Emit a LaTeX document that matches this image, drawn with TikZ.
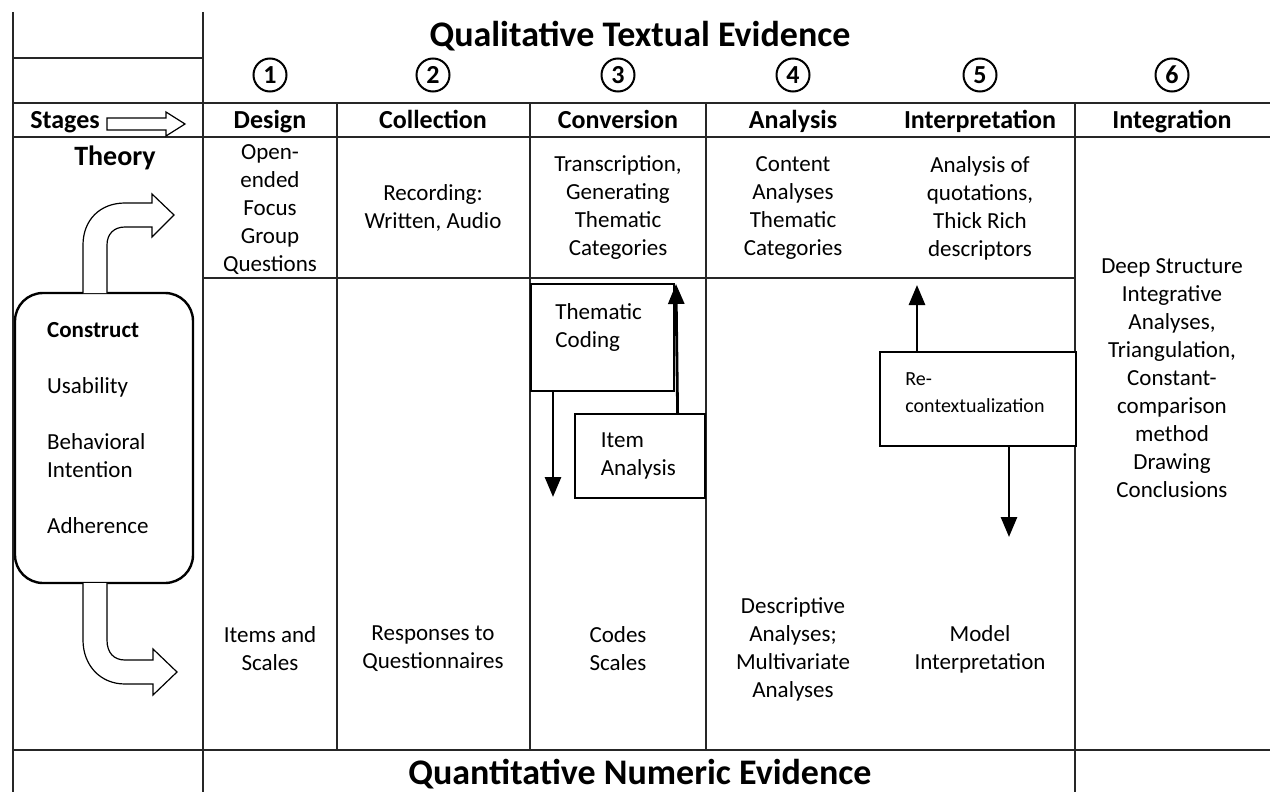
\documentclass[tikz,border=0pt]{standalone}
\usepackage{fontspec}
\setmainfont{Carlito}
\usepackage{xcolor}
\usepackage{tikz}
\usetikzlibrary{positioning}
\usetikzlibrary{arrows.meta}
\tikzstyle{arrow} = [line width=1.4pt,-{Triangle[width=8pt,length=10pt]}]
\tikzstyle{grid} = [line width=0.8pt, draw=black!85]
\tikzstyle{cell} = [align=center, inner sep=0pt, font=\fontsize{11.5}{14}\selectfont]
\tikzstyle{head} = [inner sep=0pt, anchor=base, font=\bfseries\fontsize{13}{15}\selectfont]
\tikzstyle{title} = [inner sep=0pt, anchor=base, font=\bfseries\fontsize{18}{20}\selectfont]
\tikzstyle{num} = [draw, circle, line width=1pt, minimum size=16.5pt, inner sep=0pt, font=\bfseries\fontsize{13}{13}\selectfont]
\tikzstyle{box} = [draw, line width=0.8pt, fill=white, align=left, anchor=north west, font=\fontsize{11.5}{14}\selectfont]
\tikzstyle{hollow} = [line width=0.6pt, fill=white]

\begin{document}
\begin{tikzpicture}[x=0.5pt,y=-0.5pt]
  \useasboundingbox (0,0) rectangle (1270,792);
  % table lines
  \draw[grid] (13,12) -- (13,792);
  \draw[grid] (203,12) -- (203,792);
  \draw[grid] (337,103) -- (337,750);
  \draw[grid] (530,103) -- (530,750);
  \draw[grid] (706,103) -- (706,750);
  \draw[grid] (1075,103) -- (1075,792);
  \draw[grid] (13,58) -- (203,58);
  \draw[grid] (13,103) -- (1270,103);
  \draw[grid] (13,137) -- (1270,137);
  \draw[grid] (203,278) -- (1075,278);
  \draw[grid] (13,750) -- (1270,750);

  \node[title] (qual) at (640,47) {Qualitative Textual Evidence};
  \node[title] (quant) at (640,784) {Quantitative Numeric Evidence};

  \node[num] (n1) at (270,75) {1};
  \node[num] (n2) at (433,75) {2};
  \node[num] (n3) at (618,75) {3};
  \node[num] (n4) at (793,75) {4};
  \node[num] (n5) at (980,75) {5};
  \node[num] (n6) at (1172,75) {6};

  \node[head] (stages) at (65,128.5) {Stages};
  \draw[hollow] (107,118) -- (166,118) -- (166,112) -- (185,124) -- (166,136) -- (166,130) -- (107,130) -- cycle;
  \node[head] (design) at (270,128.5) {Design};
  \node[head] (collection) at (433,128.5) {Collection};
  \node[head] (conversion) at (618,128.5) {Conversion};
  \node[head] (analysis) at (793,128.5) {Analysis};
  \node[head] (interpretation) at (980,128.5) {Interpretation};
  \node[head] (integration) at (1172,128.5) {Integration};

  \node[inner sep=0pt, anchor=base, font=\bfseries\fontsize{14}{16}\selectfont] (theory) at (115,166) {Theory};

  % construct box and its two hollow arrows
  \node[draw, line width=1.2pt, rounded corners=14pt, minimum width=89pt, minimum height=145pt] (construct) at (104,438) {};
  \node[cell, align=left, anchor=north west] (constructtext) at ([xshift=16.5pt,yshift=-15pt]construct.north west)
    {\textbf{Construct}\\[14pt]Usability\\[14pt]Behavioral\\Intention\\[14pt]Adherence};
  \draw[hollow] (83,293) -- (83,245) .. controls (83,220) and (100,203) .. (125,203) -- (152,203) -- (152,194) -- (174,215) -- (152,237) -- (152,227) -- (125,227) .. controls (114,227) and (107,234) .. (107,245) -- (107,293);
  \draw[hollow] (83,583) -- (83,640) .. controls (83,665) and (100,684) .. (125,684) -- (153,684) -- (153,695) -- (177,672) -- (153,649) -- (153,660) -- (125,660) .. controls (114,660) and (107,653) .. (107,640) -- (107,583);

  % qualitative row
  \node[cell] (openq) at (270,210) {Open-\\ended\\Focus\\Group\\Questions};
  \node[cell] (recording) at (433,208) {Recording:\\Written, Audio};
  \node[cell] (transcription) at (618,208) {Transcription,\\Generating\\Thematic\\Categories};
  \node[cell] (content) at (793,208) {Content\\Analyses\\Thematic\\Categories};
  \node[cell] (quotations) at (980,208) {Analysis of\\quotations,\\Thick Rich\\descriptors};
  \node[cell] (deep) at (1172,378) {Deep Structure\\Integrative\\Analyses,\\Triangulation,\\Constant-\\comparison\\method\\Drawing\\Conclusions};

  % quantitative row
  \node[cell] (items) at (270,649) {Items and\\Scales};
  \node[cell] (responses) at (433,649) {Responses to\\Questionnaires};
  \node[cell] (codes) at (618,649) {Codes\\Scales};
  \node[cell] (descriptive) at (793,649) {Descriptive\\Analyses;\\Multivariate\\Analyses};
  \node[cell] (model) at (980,649) {Model\\Interpretation};

  % conversion loop
  \node[box, minimum width=71.5pt, minimum height=53.5pt] (coding) at (530,283) {};
  \node[cell, align=left, anchor=north west] (codingtext) at ([xshift=12.5pt,yshift=-10pt]coding.north west) {Thematic\\Coding};
  \node[box, minimum width=65pt, minimum height=42pt, text width=39pt, inner xsep=13pt] (itemanalysis) at (574,413) {Item\\Analysis};
  \coordinate (codingend) at (553,497);
  \coordinate (itemend) at (676,284);
  \draw[arrow] ([xshift=11.5pt]coding.south west) -- (codingend);
  \draw[arrow] ([xshift=-14pt]itemanalysis.north east) -- (itemend);

  % interpretation loop
  \node[box, minimum width=98pt, minimum height=47pt] (recontext) at (879,351) {};
  \node[inner sep=0pt, align=left, anchor=north west, font=\fontsize{10}{13.5}\selectfont] (recontexttext) at ([xshift=13pt,yshift=-10.5pt]recontext.north west) {Re-\\contextualization};
  \coordinate (recontextup) at (917,285);
  \coordinate (recontextdown) at (1009,537);
  \draw[arrow] ([xshift=19pt]recontext.north west) -- (recontextup);
  \draw[arrow] ([xshift=65pt]recontext.south west) -- (recontextdown);
\end{tikzpicture}
\end{document}
